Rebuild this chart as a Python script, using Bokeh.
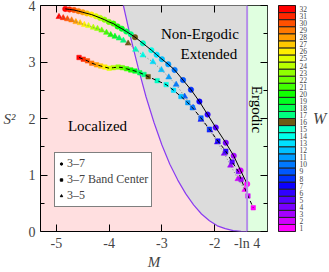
import math
from bokeh.plotting import figure
from bokeh.models import (ColumnDataSource, LinearColorMapper, FixedTicker, LinearAxis,
                          Legend, LegendItem, Range1d, Span)
from bokeh.transform import transform
from bokeh.layouts import row
from bokeh.core.properties import value
from bokeh.embed import file_html
from bokeh.resources import INLINE

LN4 = math.log(4)
FONT = "Liberation Serif"

# colour levels W = 1..32
w_levels = list(range(1, 33))
palette = ["#ff00ff", "#d200ff", "#a400ff", "#7800ff", "#5400ff", "#3000ff", "#0c00ff", "#0030ff",
           "#0058ff", "#0078ff", "#009cff", "#00c0ff", "#00e0ff", "#00ffe8", "#00ffc4", "#6e5a14",
           "#00ff80", "#00ff50", "#00ff20", "#10ff00", "#40ff00", "#6cff00", "#90ff00", "#b8ff00",
           "#e0ff00", "#ffee00", "#ffc800", "#ff9c00", "#ff7800", "#ff5000", "#ff2800", "#ff0000"]

# W of each point (32 down to 1)
W = list(range(32, 0, -1))

# 3-7
m_37 = [-4.83, -4.75, -4.665, -4.58, -4.50, -4.42, -4.335, -4.25, -4.17, -4.09, -4.005, -3.92,
        -3.84, -3.76, -3.675, -3.59, -3.51, -3.36, -3.20, -3.10, -3.00, -2.88, -2.76, -2.60,
        -2.45, -2.29, -2.135, -1.98, -1.79, -1.64, -1.51, -1.385]
s2_37 = [3.94, 3.93, 3.92, 3.90, 3.88, 3.86, 3.84, 3.81, 3.78, 3.75, 3.71, 3.68, 3.63, 3.59,
         3.54, 3.49, 3.44, 3.33, 3.21, 3.13, 3.05, 2.96, 2.86, 2.68, 2.51, 2.30, 2.07, 1.84,
         1.57, 1.34, 1.08, 0.84]
# 3-7 band center
m_bc = [-4.57, -4.49, -4.41, -4.33, -4.24, -4.16, -4.08, -4.00, -3.92, -3.83, -3.75, -3.67,
        -3.59, -3.51, -3.42, -3.34, -3.26, -3.09, -2.92, -2.78, -2.64, -2.51, -2.42, -2.26,
        -2.10, -1.94, -1.79, -1.67, -1.55, -1.50, -1.37, -1.27]
s2_bc = [3.08, 3.05, 3.02, 2.98, 2.95, 2.93, 2.91, 2.89, 2.90, 2.91, 2.90, 2.88, 2.86, 2.84,
         2.81, 2.78, 2.74, 2.67, 2.60, 2.50, 2.39, 2.28, 2.19, 2.01, 1.81, 1.60, 1.42, 1.23,
         1.06, 0.92, 0.63, 0.42]
# 3-5
m_35 = [-4.95, -4.87, -4.79, -4.71, -4.63, -4.55, -4.47, -4.39, -4.30, -4.22, -4.14, -4.05,
        -3.97, -3.89, -3.81, -3.73, -3.64, -3.50, -3.36, -3.17, -3.01, -2.87, -2.73, -2.57,
        -2.41, -2.26, -2.09, -1.95, -1.82, -1.70, -1.56, -1.43]
s2_35 = [3.80, 3.78, 3.76, 3.74, 3.71, 3.69, 3.66, 3.64, 3.61, 3.59, 3.56, 3.52, 3.48, 3.45,
         3.42, 3.38, 3.33, 3.22, 3.12, 3.00, 2.86, 2.73, 2.60, 2.39, 2.19, 1.98, 1.79, 1.58,
         1.38, 1.17, 0.93, 0.74]

# localized / non-ergodic boundary
bound_m = [-3.76, -3.73, -3.60, -3.45, -3.30, -3.15, -3.00, -2.85, -2.70, -2.55, -2.40, -2.25,
           -2.10, -1.95, -1.80, -1.65, -1.50, -LN4]
bound_s2 = [4.12, 4.00, 3.46, 2.90, 2.38, 1.93, 1.53, 1.19, 0.91, 0.67, 0.47, 0.31, 0.19, 0.10,
            0.05, 0.015, 0.002, 0.0]

x_ticks = [-5, -4, -3, -2, -LN4]
x_tick_labels = ["-5", "-4", "-3", "-2", "-ln 4"]
y_ticks = [0, 1, 2, 3, 4]
y_minor = [0.5, 1.5, 2.5, 3.5]

X0, X1, Y0, Y1 = -5.3, -1.0, 0.0, 4.0

mapper = LinearColorMapper(palette=palette, low=0.5, high=32.5)

p = figure(width=270, height=272, x_range=Range1d(X0, X1), y_range=Range1d(Y0, Y1),
           toolbar_location=None, output_backend="svg",
           min_border_left=38, min_border_right=3, min_border_top=5, min_border_bottom=39,
           background_fill_color="#ffdfe0", border_fill_color="white")
p.grid.visible = False
p.outline_line_color = "black"
p.outline_line_width = 1

# regions
p.patch(bound_m + [-LN4], bound_s2 + [bound_s2[0]], fill_color="#dcdcdc", line_color=None)
p.quad(left=[-LN4], right=[X1], bottom=[Y0], top=[Y1], fill_color="#e0ffe0", line_color=None)
p.line(bound_m, bound_s2, line_color="#8a3cf0", line_width=1.2)
p.add_layout(Span(location=-LN4, dimension="height", line_color="#b48ce8", line_width=2))

src37 = ColumnDataSource(dict(x=m_37, y=s2_37, W=W))
srcbc = ColumnDataSource(dict(x=m_bc, y=s2_bc, W=W))
src35 = ColumnDataSource(dict(x=m_35, y=s2_35, W=W))

p.scatter("x", "y", source=src35, marker="triangle", size=6,
          fill_color=transform("W", mapper), line_color=transform("W", mapper), line_width=0.5)
p.scatter("x", "y", source=srcbc, marker="square", size=4.5,
          fill_color=transform("W", mapper), line_color=transform("W", mapper), line_width=0.5)
p.scatter("x", "y", source=src37, marker="circle", size=5.5,
          fill_color=transform("W", mapper), line_color=transform("W", mapper), line_width=0.5)
p.line("x", "y", source=src35, line_color="#808080", line_width=1, line_dash="1 2")
p.line("x", "y", source=srcbc, line_color="black", line_width=1, line_dash="4 3")
p.line("x", "y", source=src37, line_color="black", line_width=1)

# region labels
txt = dict(text_font=value(FONT), text_font_size="15px", text_color="black",
           text_align="center", text_baseline="middle")
p.text(x=[-4.22], y=[1.86], text=["Localized"], **txt)
p.text(x=[-2.28], y=[3.49], text=["Non-Ergodic"], **txt)
p.text(x=[-2.11], y=[3.14], text=["Extended"], **txt)
p.text(x=[-1.19], y=[2.16], text=["Ergodic"], angle=-math.pi / 2, **txt)

# axes
xa = p.xaxis[0]
xa.ticker = FixedTicker(ticks=x_ticks, minor_ticks=[])
xa.major_label_overrides = {t: l for t, l in zip(x_ticks, x_tick_labels)}
xa.axis_label = "M"
ya = p.yaxis[0]
ya.ticker = FixedTicker(ticks=y_ticks, minor_ticks=y_minor)
ya.axis_label = "S²"
ya.axis_label_orientation = "horizontal"
for ax in (xa, ya):
    ax.major_tick_in = 7
    ax.major_tick_out = 0
    ax.minor_tick_in = 4
    ax.minor_tick_out = 0
    ax.axis_line_color = None
    ax.major_label_text_font = FONT
    ax.major_label_text_font_size = "14px"
    ax.axis_label_text_font = FONT
    ax.axis_label_text_font_size = "15px"
    ax.axis_label_text_font_style = "italic"
xa.major_label_standoff = 4
xa.axis_label_standoff = 0
ya.major_label_standoff = 5
ya.axis_label_standoff = 10

top = LinearAxis(ticker=FixedTicker(ticks=x_ticks[:4], minor_ticks=[]), major_tick_in=7,
                 major_tick_out=0, minor_tick_in=0, minor_tick_out=0, axis_line_color=None,
                 major_label_overrides={t: "" for t in x_ticks[:4]}, major_label_standoff=0)
p.add_layout(top, "above")
right = LinearAxis(ticker=FixedTicker(ticks=y_ticks, minor_ticks=y_minor), major_tick_in=7,
                   major_tick_out=0, minor_tick_in=4, minor_tick_out=0, axis_line_color=None,
                   major_label_overrides={t: "" for t in y_ticks}, major_label_standoff=0)
p.add_layout(right, "right")

# legend (proxy glyphs placed outside the visible range)
l1 = p.scatter(x=[X0 - 1], y=[Y0 - 1], marker="circle", size=5, color="black")
l2 = p.scatter(x=[X0 - 1], y=[Y0 - 1], marker="square", size=4, color="black")
l3 = p.scatter(x=[X0 - 1], y=[Y0 - 1], marker="triangle", size=5, color="black")
legend = Legend(items=[LegendItem(label="3–7", renderers=[l1]),
                       LegendItem(label="3–7 Band Center", renderers=[l2]),
                       LegendItem(label="3–5", renderers=[l3])],
                location=(14, 24), label_text_font=FONT, label_text_font_size="12px",
                label_height=11, glyph_height=11, glyph_width=6, spacing=1, padding=3,
                label_standoff=3, margin=0, border_line_color="black", border_line_width=1,
                background_fill_color="white", background_fill_alpha=1)
p.add_layout(legend)

# colour bar
cb = figure(width=59, height=272, x_range=Range1d(0, 1), y_range=Range1d(0.5, 32.5),
            toolbar_location=None, output_backend="svg", x_axis_location=None,
            y_axis_location=None, min_border_left=8, min_border_right=0, min_border_top=5,
            min_border_bottom=39)
cb.grid.visible = False
cb.outline_line_color = "black"
cbsrc = ColumnDataSource(dict(W=w_levels, b=[w - 0.5 for w in w_levels], t=[w + 0.5 for w in w_levels]))
cb.quad(left=0, right=1, bottom="b", top="t", source=cbsrc,
        fill_color=transform("W", mapper), line_color="#222222", line_width=1)
cax = LinearAxis(ticker=FixedTicker(ticks=w_levels, minor_ticks=[]), axis_label="W",
                 axis_label_orientation="horizontal", major_tick_in=0, major_tick_out=0,
                 minor_tick_in=0, minor_tick_out=0, axis_line_color=None,
                 major_label_text_font=FONT, major_label_text_font_size="7.5px",
                 major_label_standoff=4, axis_label_text_font=FONT,
                 axis_label_text_font_size="16px", axis_label_text_font_style="italic",
                 axis_label_standoff=3)
cb.add_layout(cax, "right")

layout = row(p, cb)
open("out.html", "w").write(file_html(layout, INLINE))
